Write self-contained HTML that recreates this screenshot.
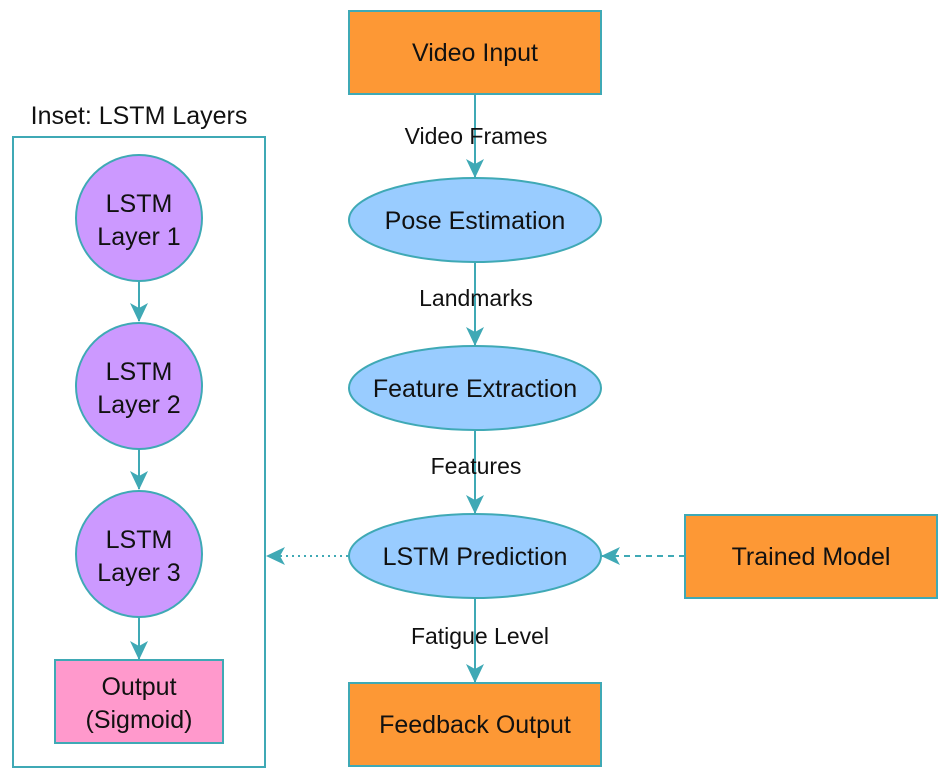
<!DOCTYPE html>
<html><head><meta charset="utf-8"><style>
html,body{margin:0;padding:0;background:#fff;}
svg{display:block;}
text{font-family:"Liberation Sans",Arial,sans-serif;fill:#111;text-anchor:middle;}
</style></head><body>
<svg width="946" height="784" viewBox="0 0 946 784" xmlns="http://www.w3.org/2000/svg">
<defs>
<marker id="ah2" viewBox="0 0 20 20" refX="18" refY="10" markerWidth="20" markerHeight="20" markerUnits="userSpaceOnUse" orient="auto">
<path d="M0,1 L19,10 L0,19 L5,10 Z" fill="#3fa9b5"/>
</marker>
</defs>
<g stroke="#3fa9b5" stroke-width="2" fill="none">
<rect x="13" y="137" width="252" height="630"/>
<line x1="475" y1="94" x2="475" y2="177" marker-end="url(#ah2)"/>
<line x1="475" y1="262" x2="475" y2="345" marker-end="url(#ah2)"/>
<line x1="475" y1="430" x2="475" y2="513" marker-end="url(#ah2)"/>
<line x1="475" y1="598" x2="475" y2="682" marker-end="url(#ah2)"/>
<line x1="139" y1="281" x2="139" y2="321" marker-end="url(#ah2)"/>
<line x1="139" y1="449" x2="139" y2="489" marker-end="url(#ah2)"/>
<line x1="139" y1="617" x2="139" y2="659" marker-end="url(#ah2)"/>
<line x1="348" y1="556" x2="267" y2="556" stroke-dasharray="2,4" marker-end="url(#ah2)"/>
<line x1="685" y1="556" x2="602" y2="556" stroke-dasharray="6,5" marker-end="url(#ah2)"/>
</g>
<g stroke="#3fa9b5" stroke-width="2">
<rect x="349" y="11" width="252" height="83" fill="#fd9835"/>
<ellipse cx="475" cy="220" rx="126" ry="42" fill="#99ccff"/>
<ellipse cx="475" cy="388" rx="126" ry="42" fill="#99ccff"/>
<ellipse cx="475" cy="556" rx="126" ry="42" fill="#99ccff"/>
<rect x="349" y="683" width="252" height="83" fill="#fd9835"/>
<rect x="685" y="515" width="252" height="83" fill="#fd9835"/>
<circle cx="139" cy="218" r="63" fill="#cc99ff"/>
<circle cx="139" cy="386" r="63" fill="#cc99ff"/>
<circle cx="139" cy="554" r="63" fill="#cc99ff"/>
<rect x="55" y="660" width="168" height="83" fill="#ff99cc"/>
</g>
<g font-size="25">
<text x="475" y="61">Video Input</text>
<text x="475" y="229">Pose Estimation</text>
<text x="475" y="397">Feature Extraction</text>
<text x="475" y="565">LSTM Prediction</text>
<text x="475" y="733">Feedback Output</text>
<text x="811" y="565">Trained Model</text>
<text x="139" y="212">LSTM</text><text x="139" y="245">Layer 1</text>
<text x="139" y="380">LSTM</text><text x="139" y="413">Layer 2</text>
<text x="139" y="548">LSTM</text><text x="139" y="581">Layer 3</text>
<text x="139" y="695">Output</text><text x="139" y="728">(Sigmoid)</text>
<text x="139" y="124">Inset: LSTM Layers</text>
</g>
<g font-size="23">
<text x="476" y="144">Video Frames</text>
<text x="476" y="306">Landmarks</text>
<text x="476" y="474">Features</text>
<text x="480" y="644">Fatigue Level</text>
</g>
</svg>
</body></html>
